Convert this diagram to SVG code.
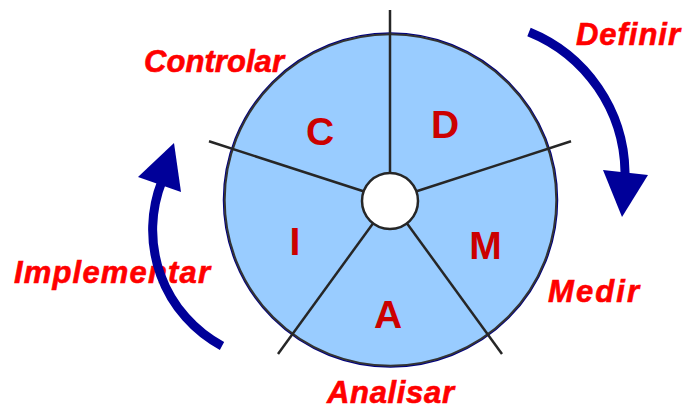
<svg xmlns="http://www.w3.org/2000/svg" width="684" height="410" viewBox="0 0 684 410">
<style>
.spoke{stroke:#262626;stroke-width:2.5;fill:none}
.seg{font-family:"Liberation Sans",Arial,sans-serif;font-weight:bold;font-size:39px;fill:#CC0000;text-anchor:middle}
.lbl{font-family:"Liberation Sans",Arial,sans-serif;font-weight:bold;font-style:italic;font-size:31px;fill:#FF0000;stroke:#FF0000;stroke-width:0.6}
.arc{stroke:#000099;stroke-width:9;fill:none}
.head{fill:#000099}
</style>
<rect width="684" height="410" fill="#FFFFFF"/>
<g id="labels">
<text class="lbl" x="144" y="72" textLength="140" lengthAdjust="spacing">Controlar</text>
<text class="lbl" x="576" y="45" textLength="104" lengthAdjust="spacing">Definir</text>
<text class="lbl" x="548" y="302" textLength="91" lengthAdjust="spacing">Medir</text>
<text class="lbl" x="327" y="403" textLength="127" lengthAdjust="spacing">Analisar</text>
<text class="lbl" x="14" y="283" textLength="196" lengthAdjust="spacing">Implementar</text>
</g>
<g id="wheel">
<circle cx="390.5" cy="200" r="167" fill="#99CCFF" stroke="#000080" stroke-width="1.5"/>
<circle cx="390.5" cy="200" r="165.8" fill="none" stroke="#333333" stroke-width="2"/>
</g>
<g id="spokes">
<line class="spoke" x1="390" y1="10" x2="390" y2="172"/>
<line class="spoke" x1="571" y1="141.3" x2="416.6" y2="191.3"/>
<line class="spoke" x1="502" y1="354" x2="406.5" y2="222.7"/>
<line class="spoke" x1="278" y1="354" x2="373.5" y2="222.7"/>
<line class="spoke" x1="209" y1="141.3" x2="363.4" y2="191.3"/>
<circle cx="390" cy="201" r="28" fill="#FFFFFF" stroke="#262626" stroke-width="2.5"/>
</g>
<g id="node-D"><text class="seg" x="445" y="138">D</text></g>
<g id="node-M"><text class="seg" x="485.5" y="259">M</text></g>
<g id="node-A"><text class="seg" x="388" y="328">A</text></g>
<g id="node-I"><text class="seg" x="295" y="255">I</text></g>
<g id="node-C"><text class="seg" x="320" y="145">C</text></g>
<g id="connectors">
<path class="arc" d="M 529 32 A 154 154 0 0 1 625 172 L 625 180"/>
<polygon class="head" points="603,170 648,175 622,217"/>
<path class="arc" d="M 222 346 A 132 132 0 0 1 162 181"/>
<polygon class="head" points="138,177 181,192 174,143"/>
</g>
</svg>
